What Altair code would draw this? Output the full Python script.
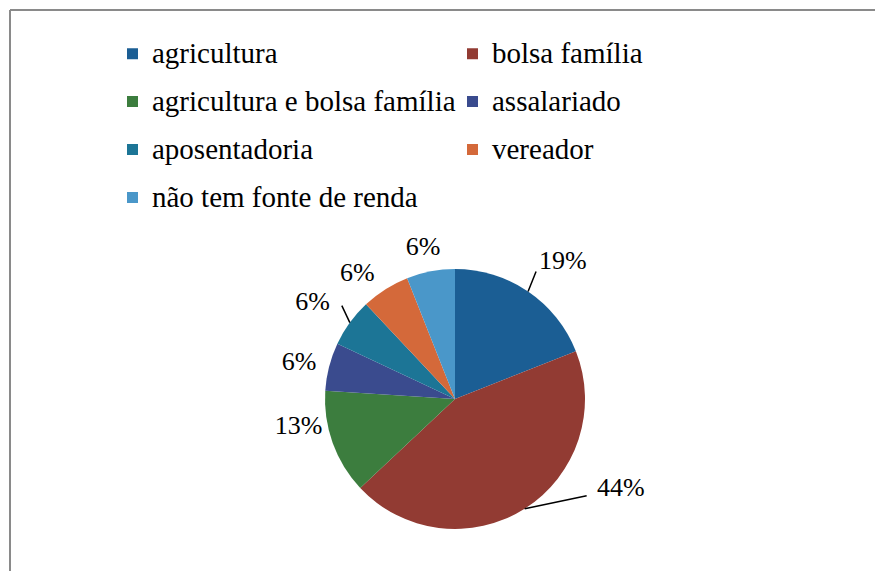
import math
import altair as alt
import pandas as pd

# ---- data ----
categories = ["agricultura", "bolsa família", "agricultura e bolsa família",
              "assalariado", "\u00a0aposentadoria", "vereador", "não tem fonte de renda"]
percents = [19, 44, 13, 6, 6, 6, 6]
labels = ["19%", "44%", "13%", "6%", "6%", "6%", "6%"]
colors = ["#1B5E94", "#923B33", "#3C7D3E", "#3A4B8E", "#1C7596", "#D4693A", "#4A97C9"]

# ---- styling / layout ----
W, H = 867, 563
CX, CY = 447, 391
R = 130
LABEL_R = 160
FONT = "Liberation Serif"
LEG_FS = 29
label_nudge = [(18, -6), (80, -46), (-6, -27), (-1, 3), (-13, -3), (-12, 9), (-2, 5)]
leader_vec = {0: (8, -20), 1: (62, -13), 4: (-8, -17)}

total = sum(percents)
rows = []
cum = 0
for i, (c, p, lab) in enumerate(zip(categories, percents, labels)):
    mid = (cum + p / 2) / total * 2 * math.pi
    cum += p
    ndx, ndy = label_nudge[i]
    rows.append({
        "category": c, "value": p, "label": lab, "idx": i,
        "lx": CX + LABEL_R * math.sin(mid) + ndx,
        "ly": CY - LABEL_R * math.cos(mid) + ndy,
        "mid": mid,
    })
df = pd.DataFrame(rows)

lead_rows = []
for i, (vx, vy) in leader_vec.items():
    mid = df.loc[i, "mid"]
    sx = CX + R * math.sin(mid)
    sy = CY - R * math.cos(mid)
    lead_rows.append({"x": sx, "y": sy, "x2": sx + vx, "y2": sy + vy})
lead_df = pd.DataFrame(lead_rows)

base = alt.Chart(df)

pie = base.mark_arc(strokeWidth=0).encode(
    theta=alt.Theta("value:Q", stack=True),
    order=alt.Order("idx:Q"),
    color=alt.Color(
        "category:N",
        scale=alt.Scale(domain=categories, range=colors),
        legend=alt.Legend(
            title=None, orient="none", legendX=110, legendY=31, columns=2,
            direction="horizontal",
            symbolType="square", symbolSize=121, symbolStrokeWidth=0,
            labelFont=FONT, labelFontSize=LEG_FS, labelColor="black",
            rowPadding=18, columnPadding=2, labelOffset=5, labelLimit=0,
            padding=0,
        ),
    ),
    x=alt.value(CX),
    y=alt.value(CY),
    radius=alt.value(R),
)

text = base.mark_text(font=FONT, fontSize=26, color="black",
                      align="center", baseline="middle").encode(
    x=alt.X("lx:Q", scale=None, axis=None),
    y=alt.Y("ly:Q", scale=None, axis=None),
    text="label:N",
)

leaders = alt.Chart(lead_df).mark_rule(color="black", strokeWidth=1.5).encode(
    x=alt.X("x:Q", scale=None, axis=None),
    y=alt.Y("y:Q", scale=None, axis=None),
    x2="x2:Q",
    y2="y2:Q",
)

frame_df = pd.DataFrame({"a": [0]})
frame_left = alt.Chart(frame_df).mark_rule(color="#8a8a8a", strokeWidth=2).encode(
    x=alt.value(2), y=alt.value(2), y2=alt.value(H))
frame_top = alt.Chart(frame_df).mark_rule(color="#8a8a8a", strokeWidth=2).encode(
    x=alt.value(2), x2=alt.value(W), y=alt.value(2))

chart = alt.layer(frame_left, frame_top, pie, leaders, text).properties(
    width=W, height=H,
    autosize=alt.AutoSizeParams(type="fit", contains="padding"),
    padding=0,
    background="white",
).configure(
    font=FONT,
    view=alt.ViewConfig(strokeWidth=0, stroke="transparent"),
    legend=alt.LegendConfig(labelFont=FONT, labelFontSize=LEG_FS, labelColor="black"),
    style={"guide-label": {"font": FONT, "fontSize": LEG_FS}},
)

chart.save("out.html", embed_options={"renderer": "svg", "actions": False})
